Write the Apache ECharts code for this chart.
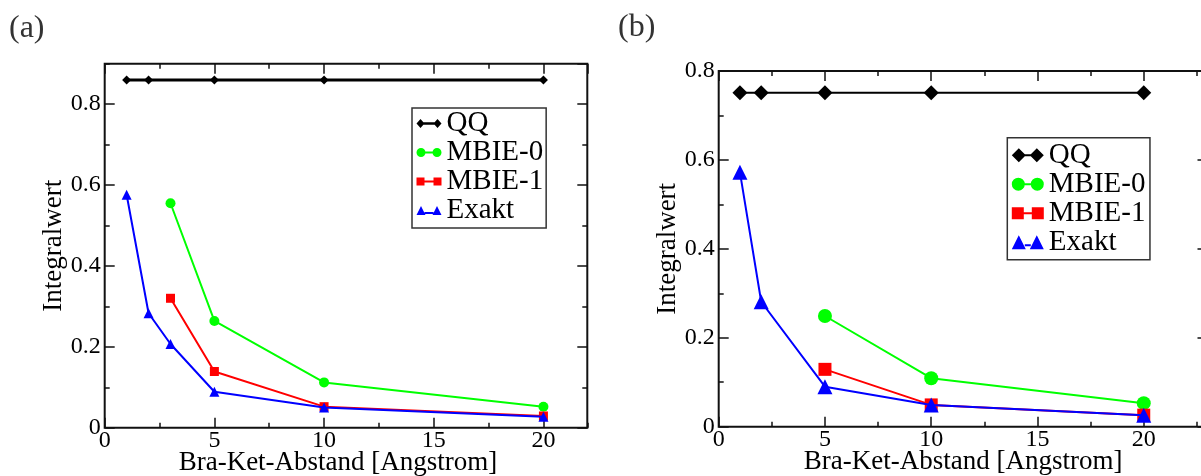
<!DOCTYPE html>
<html><head><meta charset="utf-8">
<script src="https://cdn.jsdelivr.net/npm/echarts@6/dist/echarts.min.js"></script>
<style>html,body{margin:0;padding:0;background:#fff}#c{width:1201px;height:476px}</style>
</head><body><div id="c"></div>
<script>
// ---- data ----
const seriesNames = ['QQ', 'MBIE-0', 'MBIE-1', 'Exakt'];
const panelLabels = ['(a)', '(b)'];
const xTitle = 'Bra-Ket-Abstand [Angstrom]';
const yTitle = 'Integralwert';
// panel (a)
const aQQx = [1, 2, 5, 10, 20];
const aQQy = [0.86, 0.86, 0.86, 0.86, 0.86];
const aM0x = [3, 5, 10, 20];
const aM0y = [0.555, 0.264, 0.112, 0.052];
const aM1x = [3, 5, 10, 20];
const aM1y = [0.320, 0.139, 0.052, 0.029];
const aExx = [1, 2, 3, 5, 10, 20];
const aExy = [0.576, 0.283, 0.207, 0.089, 0.050, 0.027];
// panel (b)
const bQQx = [1, 2, 5, 10, 20];
const bQQy = [0.751, 0.751, 0.751, 0.751, 0.751];
const bM0x = [5, 10, 20];
const bM0y = [0.249, 0.109, 0.053];
const bM1x = [5, 10, 20];
const bM1y = [0.129, 0.049, 0.026];
const bExx = [1, 2, 5, 10, 20];
const bExy = [0.572, 0.281, 0.090, 0.049, 0.026];
// axis ranges / ticks
const aXmax = 22, aYmax = 0.9;
const bXmax = 23, bYmax = 0.8;
const xMajor = 5, xMinor = 2.5, yMajor = 0.2, yMinor = 0.1;

// ---- styling ----
const FONT = 'Liberation Serif';
const colors = ['#000000', '#00ff00', '#ff0000', '#0000ff'];
const symbols = ['diamond', 'circle', 'rect', 'triangle'];
const symSizeA = [9, 10, 9, 10];
const symSizeB = [15, 14, 13, 15];
const lineWA = [3, 2, 2, 2];
const lineWB = [2, 2, 2, 2];
const iconsA = [
  'path://M0,4.5L4,0L8,4.5L4,9ZM17,4.5L21,0L25,4.5L21,9ZM7,3.3L18,3.3L18,5.7L7,5.7Z',
  'path://M0,4.5A4.5,4.5,0,1,1,9,4.5A4.5,4.5,0,1,1,0,4.5ZM16,4.5A4.5,4.5,0,1,1,25,4.5A4.5,4.5,0,1,1,16,4.5ZM8,3.5L17,3.5L17,5.5L8,5.5Z',
  'path://M0,0.5L8,0.5L8,8.5L0,8.5ZM17,0.5L25,0.5L25,8.5L17,8.5ZM7,3.5L18,3.5L18,5.5L7,5.5Z',
  'path://M0,9L4.5,0L9,9ZM16,9L20.5,0L25,9ZM8,6L17,6L17,8L8,8Z'
];
const iconsB = [
  'path://M0,7L7,0L14,7L7,14ZM18,7L25,0L32,7L25,14ZM13,6L19,6L19,8L13,8Z',
  'path://M0,7A6.5,6.5,0,1,1,13,7A6.5,6.5,0,1,1,0,7ZM19,7A6.5,6.5,0,1,1,32,7A6.5,6.5,0,1,1,19,7ZM12,6L20,6L20,8L12,8Z',
  'path://M0,1L12,1L12,13L0,13ZM20,1L32,1L32,13L20,13ZM11,6L21,6L21,8L11,8Z',
  'path://M0,14L7,0L14,14ZM18,14L25,0L32,14ZM13,9L19,9L19,11L13,11Z'
];

function zip(xs, ys) { return xs.map((x, i) => [x, ys[i]]); }

const grids = [
  { left: 104.7, top: 63.7, width: 482.6, height: 364, show: true, borderColor: '#111', borderWidth: 2, backgroundColor: 'transparent', containLabel: false, outerBoundsMode: 'none' },
  { left: 718.7, top: 71, width: 488.8, height: 355.7, show: true, borderColor: '#111', borderWidth: 2, backgroundColor: 'transparent', containLabel: false, outerBoundsMode: 'none' }
];

const tickStyle = { color: '#111', width: 1.5 };
function xAxes(gi, xmax, namePad) {
  const base = { type: 'value', gridIndex: gi, min: 0, max: xmax, splitLine: { show: false }, axisLine: { show: false, onZero: false } };
  return [
    Object.assign({}, base, {
      position: 'bottom', interval: xMajor,
      axisTick: { inside: true, length: 10, lineStyle: tickStyle },
      axisLabel: { fontSize: 24, fontFamily: FONT, color: '#000', margin: 1, showMaxLabel: false, formatter: v => String(v) },
      name: xTitle, nameLocation: 'middle', nameGap: 22, nameMoveOverlap: false,
      nameTextStyle: { fontSize: 27, fontFamily: FONT, color: '#000', padding: namePad }
    }),
    Object.assign({}, base, { position: 'bottom', interval: xMinor, axisTick: { inside: true, length: 5, lineStyle: tickStyle }, axisLabel: { show: false } }),
    Object.assign({}, base, { position: 'top', interval: xMajor, axisTick: { inside: true, length: 10, lineStyle: tickStyle }, axisLabel: { show: false } }),
    Object.assign({}, base, { position: 'top', interval: xMinor, axisTick: { inside: true, length: 5, lineStyle: tickStyle }, axisLabel: { show: false } })
  ];
}
function yAxes(gi, ymax, hideMax) {
  const base = { type: 'value', gridIndex: gi, min: 0, max: ymax, splitLine: { show: false }, axisLine: { show: false, onZero: false } };
  return [
    Object.assign({}, base, {
      position: 'left', interval: yMajor,
      axisTick: { inside: true, length: 10, lineStyle: tickStyle },
      axisLabel: { fontSize: 24, fontFamily: FONT, color: '#000', margin: 4, showMaxLabel: !hideMax, formatter: v => (v === 0 ? '0' : v.toFixed(1)) },
      name: yTitle, nameLocation: 'middle', nameGap: 37, nameMoveOverlap: false,
      nameTextStyle: { fontSize: 27, fontFamily: FONT, color: '#000' }
    }),
    Object.assign({}, base, { position: 'left', interval: yMinor, axisTick: { inside: true, length: 5, lineStyle: tickStyle }, axisLabel: { show: false } }),
    Object.assign({}, base, { position: 'right', interval: yMajor, axisTick: { inside: true, length: 10, lineStyle: tickStyle }, axisLabel: { show: false } }),
    Object.assign({}, base, { position: 'right', interval: yMinor, axisTick: { inside: true, length: 5, lineStyle: tickStyle }, axisLabel: { show: false } })
  ];
}

function mkSeries(axisIdx, dataList, sizes, widths) {
  return dataList.map((d, i) => ({
    type: 'line', name: seriesNames[i], xAxisIndex: axisIdx, yAxisIndex: axisIdx,
    data: d, symbol: symbols[i], symbolSize: sizes[i], showSymbol: true, showAllSymbol: true,
    itemStyle: { color: colors[i], borderWidth: 0 },
    lineStyle: { color: colors[i], width: widths[i] },
    emphasis: { disabled: true }, z: 2 + i
  }));
}

const seriesA = mkSeries(0, [zip(aQQx, aQQy), zip(aM0x, aM0y), zip(aM1x, aM1y), zip(aExx, aExy)], symSizeA, lineWA);
const seriesB = mkSeries(4, [zip(bQQx, bQQy), zip(bM0x, bM0y), zip(bM1x, bM1y), zip(bExx, bExy)], symSizeB, lineWB);

function mkLegend(left, top, iw, ih, icons, padding) {
  return {
    orient: 'vertical', left: left, top: top, padding: padding, itemGap: 0,
    itemWidth: iw, itemHeight: ih, borderColor: '#333', borderWidth: 1.5, backgroundColor: '#fff',
    selectedMode: false,
    textStyle: { fontSize: 29, fontFamily: FONT, color: '#000', lineHeight: 25 },
    data: seriesNames.map((n, i) => ({ name: n, icon: icons[i] }))
  };
}

const option = {
  animation: false,
  textStyle: { fontFamily: FONT },
  grid: grids,
  xAxis: xAxes(0, aXmax, [0, 16, 0, 0]).concat(xAxes(1, bXmax, 0)),
  yAxis: yAxes(0, aYmax, true).concat(yAxes(1, bYmax, false)),
  legend: [
    mkLegend(412, 108, 25, 9, iconsA, [1, 3, 3, 4.5]),
    mkLegend(1007.3, 137.7, 32, 14, iconsB, [3, 4.5, 3, 4.5])
  ],
  graphic: [
    { type: 'text', left: 9, top: 13, style: { text: panelLabels[0], fontSize: 32, fontFamily: FONT, fill: '#333' } },
    { type: 'text', left: 618, top: 12, style: { text: panelLabels[1], fontSize: 32, fontFamily: FONT, fill: '#333' } }
  ],
  series: seriesA.concat(seriesB)
};

const chart = echarts.init(document.getElementById('c'), null, { renderer: 'canvas' });
chart.setOption(option);
</script>
</body></html>
